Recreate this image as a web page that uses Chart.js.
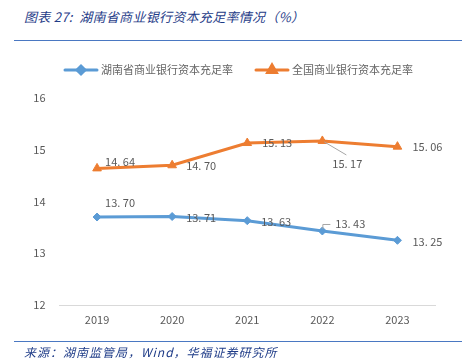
<!DOCTYPE html>
<html>
<head>
<meta charset="utf-8">
<script src="https://cdn.jsdelivr.net/npm/chart.js@4/dist/chart.umd.min.js"></script>
<style>
  html, body { margin: 0; padding: 0; background: #fff; }
  #wrap { position: relative; width: 466px; height: 364px; overflow: hidden; }
  #canvas { position: absolute; left: 0; top: 0; }
  .title { position: absolute; left: 24px; top: 7px; font: italic 13px "Noto Sans CJK SC", sans-serif; color: #1f3c88; white-space: nowrap; letter-spacing: 0.3px; }
  .source { position: absolute; left: 24px; top: 343px; font: italic 12px "Noto Sans CJK SC", sans-serif; color: #1f3c88; white-space: nowrap; letter-spacing: 1px; }
  .rule { position: absolute; left: 14px; width: 448px; height: 1px; background: #4a78c2; }
</style>
</head>
<body>
<div id="wrap">
  <div class="title">图表 27:&nbsp; 湖南省商业银行资本充足率情况（%）</div>
  <div class="rule" style="top:40px"></div>
  <canvas id="canvas" width="466" height="364"></canvas>
  <div class="rule" style="top:341px"></div>
  <div class="source">来源：湖南监管局，Wind，华福证券研究所</div>
</div>
<script>
'use strict';

// data
const years = ['2019', '2020', '2021', '2022', '2023'];
const hunanRatio = [13.70, 13.71, 13.63, 13.43, 13.25];
const nationalRatio = [14.64, 14.70, 15.13, 15.17, 15.06];
const yTicks = [12, 13, 14, 15, 16];

const BLUE = '#5b9bd5';
const ORANGE = '#ed7d31';
const TEXT = '#595959';
const FONT = '"Noto Sans CJK SC", sans-serif';

// label placement (offset from the point, in px), plus optional leader line
const hunanLabelPos = [[8, -14], [14, 1], [14, 1], [13, -7, 'hook'], [15, 1]];
const nationalLabelPos = [[8, -7], [14, 1], [15, 0], [10, 23, 'diag'], [15, 0]];

// draw value labels next to each point
const valueLabels = {
  id: 'valueLabels',
  afterDatasetsDraw(chart) {
    const ctx = chart.ctx;
    ctx.save();
    ctx.font = '11px ' + FONT;
    ctx.fillStyle = TEXT;
    ctx.textBaseline = 'middle';
    ctx.textAlign = 'left';
    chart.data.datasets.forEach((ds, di) => {
      const meta = chart.getDatasetMeta(di);
      meta.data.forEach((pt, i) => {
        const [dx, dy, leader] = ds.labelPos[i];
        const txt = ds.data[i].toFixed(2).replace('.', '. ');
        if (leader === 'diag') {
          ctx.strokeStyle = '#a6a6a6';
          ctx.lineWidth = 1;
          ctx.beginPath();
          ctx.moveTo(pt.x + 2, pt.y + 1);
          ctx.lineTo(pt.x + dx + 14, pt.y + dy - 9);
          ctx.stroke();
        } else if (leader === 'hook') {
          ctx.strokeStyle = '#a6a6a6';
          ctx.lineWidth = 1;
          ctx.beginPath();
          ctx.moveTo(pt.x + 0.5, pt.y - 2);
          ctx.lineTo(pt.x + 0.5, pt.y + dy + 0.5);
          ctx.lineTo(pt.x + dx - 5, pt.y + dy + 0.5);
          ctx.stroke();
        }
        ctx.fillText(txt, pt.x + dx, pt.y + dy);
      });
    });
    ctx.restore();
  }
};

// legend: line with marker, then text
const lineLegend = {
  id: 'lineLegend',
  afterDraw(chart) {
    const ctx = chart.ctx;
    const items = [
      { x: 65, ds: chart.data.datasets[0] },
      { x: 256, ds: chart.data.datasets[1] }
    ];
    const y = 70;
    ctx.save();
    items.forEach(it => {
      ctx.strokeStyle = it.ds.borderColor;
      ctx.lineWidth = 3;
      ctx.lineCap = 'round';
      ctx.beginPath();
      ctx.moveTo(it.x, y);
      ctx.lineTo(it.x + 32, y);
      ctx.stroke();
      Chart.helpers.drawPoint(ctx, {
        pointStyle: it.ds.pointStyle,
        radius: it.ds.pointRadius,
        rotation: 0,
        borderWidth: 1
      }, it.x + 16, y);
      ctx.fillStyle = it.ds.borderColor;
      ctx.fill();
      ctx.font = '11px ' + FONT;
      ctx.fillStyle = '#666666';
      ctx.textBaseline = 'middle';
      ctx.textAlign = 'left';
      ctx.fillText(it.ds.label, it.x + 36, y);
    });
    ctx.restore();
  }
};

new Chart(document.getElementById('canvas').getContext('2d'), {
  type: 'line',
  data: {
    labels: years,
    datasets: [
      {
        label: '湖南省商业银行资本充足率',
        data: hunanRatio,
        labelPos: hunanLabelPos,
        borderColor: BLUE,
        backgroundColor: BLUE,
        borderWidth: 3,
        pointStyle: 'rectRot',
        pointRadius: 4,
        pointBorderWidth: 1,
        tension: 0
      },
      {
        label: '全国商业银行资本充足率',
        data: nationalRatio,
        labelPos: nationalLabelPos,
        borderColor: ORANGE,
        backgroundColor: ORANGE,
        borderWidth: 3,
        pointStyle: 'triangle',
        pointRadius: 5,
        pointBorderWidth: 1,
        tension: 0
      }
    ]
  },
  options: {
    responsive: false,
    animation: false,
    layout: { padding: { top: 98, right: 31, left: 0, bottom: 0 } },
    plugins: {
      legend: { display: false },
      tooltip: { enabled: false }
    },
    scales: {
      x: {
        offset: true,
        grid: { display: false, drawTicks: false },
        border: { display: true, color: '#d9d9d9', width: 1 },
        ticks: { color: TEXT, font: { family: FONT, size: 11 }, padding: 8, maxRotation: 0 },
        afterFit: s => { s.height = 59; }
      },
      y: {
        min: yTicks[0],
        max: yTicks[yTicks.length - 1],
        afterBuildTicks: s => { s.ticks = yTicks.map(v => ({ value: v })); },
        grid: { display: false, drawTicks: false },
        border: { display: false },
        ticks: { color: TEXT, font: { family: FONT, size: 11 }, padding: 14 },
        afterFit: s => { s.width = 59.5; }
      }
    }
  },
  plugins: [valueLabels, lineLegend]
});
</script>
</body>
</html>
